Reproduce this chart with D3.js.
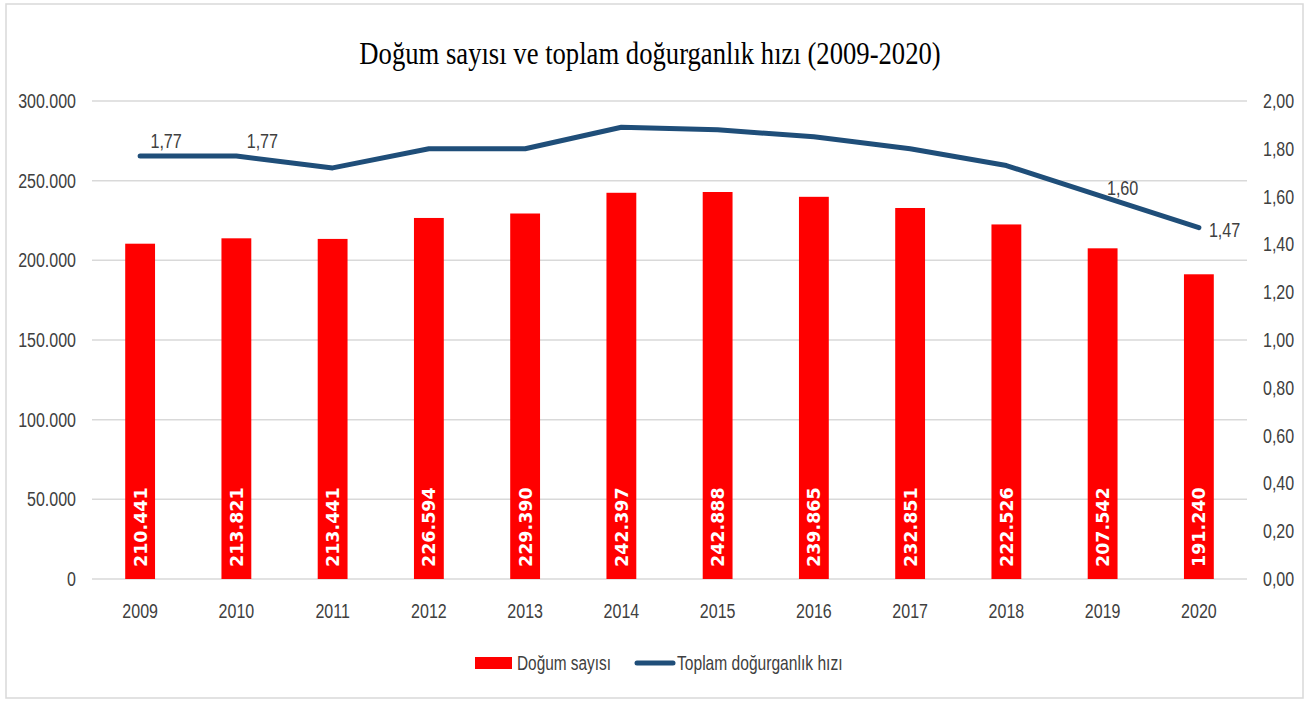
<!DOCTYPE html>
<html lang="tr">
	<head>
		<meta charset="utf-8">
		<title>Doğum sayısı ve toplam doğurganlık hızı</title>
		<script type="text/javascript" src="https://cdn.jsdelivr.net/npm/d3@7/dist/d3.min.js"></script>
		<style type="text/css">
			body { margin: 0; background: #fff; }
			.lbl { font-family: "Liberation Sans", Arial, sans-serif; fill: #404040; }
		</style>
	</head>
	<body>
		<script type="text/javascript">
			var years = ['2009','2010','2011','2012','2013','2014','2015','2016','2017','2018','2019','2020'];
			var births = [210441, 213821, 213441, 226594, 229390, 242397, 242888, 239865, 232851, 222526, 207542, 191240];
			var fertility = [1.77, 1.77, 1.72, 1.80, 1.80, 1.89, 1.88, 1.85, 1.80, 1.73, 1.60, 1.47];
			var leftTicks = [0, 50000, 100000, 150000, 200000, 250000, 300000];
			var rightTicks = [0, 0.2, 0.4, 0.6, 0.8, 1.0, 1.2, 1.4, 1.6, 1.8, 2.0];
			// only these points carry a label on the line
			var lineLabels = [{i: 0, pos: 'above'}, {i: 1, pos: 'above'}, {i: 10, pos: 'aboveRight'}, {i: 11, pos: 'right'}];
			var seriesNames = ['Doğum sayısı', 'Toplam doğurganlık hızı'];

			var w = 1309;
			var h = 702;
			var margin = {'left': 92, 'right': 62, 'top': 101, 'bottom': 123};
			// no narrow font installed, so squeeze the sans labels a bit
			var squeeze = 'scale(0.8,1)';

			var svg = d3.select('body').append('svg').attr('width', w).attr('height', h);

			// outer frame
			svg.append('rect')
				.attr('x', 6).attr('y', 4)
				.attr('width', 1297).attr('height', 694)
				.attr('fill', '#fff')
				.attr('stroke', '#d9d9d9')
				.attr('stroke-width', 1.5);

			svg.append('text')
				.attr('transform', 'translate(650,64) scale(0.86,1)')
				.attr('text-anchor', 'middle')
				.style('font-family', '"Liberation Serif", "Times New Roman", serif')
				.style('font-size', '31px')
				.attr('fill', '#000')
				.text('Doğum sayısı ve toplam doğurganlık hızı (2009-2020)');

			var xScale = d3.scaleBand()
						.domain(years)
						.range([margin.left, w - margin.right])
						.paddingInner(0.69)
						.paddingOuter(0.345);

			var yScale = d3.scaleLinear()
						.domain([0, 300000])
						.range([h - margin.bottom, margin.top]);

			var rScale = d3.scaleLinear()
						.domain([0, 2])
						.range([h - margin.bottom, margin.top]);

			var numFmt = function(v) { return d3.format(',')(v).replace(/,/g, '.'); };

			// grid lines
			svg.append('g')
				.selectAll('line')
				.data(leftTicks)
				.enter()
				.append('line')
				.attr('x1', margin.left)
				.attr('x2', w - margin.right)
				.attr('y1', function(d) { return yScale(d); })
				.attr('y2', function(d) { return yScale(d); })
				.attr('stroke', '#d9d9d9')
				.attr('stroke-width', 1.5);

			var styleTicks = function(g) {
				g.select('.domain').remove();
				g.selectAll('text')
					.attr('class', 'lbl')
					.style('font-size', '20px')
					.attr('fill', '#404040')
					.attr('transform', squeeze);
			};

			var yAxis = d3.axisLeft(yScale).tickValues(leftTicks).tickSize(0).tickPadding(0).tickFormat(numFmt);
			svg.append('g')
				.attr('transform', 'translate(' + 76 + ',0)')
				.call(yAxis)
				.call(styleTicks);

			var rAxis = d3.axisRight(rScale).tickValues(rightTicks).tickSize(0).tickPadding(0)
						.tickFormat(function(d) { return d3.format('.2f')(d).replace('.', ','); });
			svg.append('g')
				.attr('transform', 'translate(' + 1263 + ',0)')
				.call(rAxis)
				.call(styleTicks);

			var xAxis = d3.axisBottom(xScale).tickSize(0).tickPadding(25);
			svg.append('g')
				.attr('transform', 'translate(0,' + (h - margin.bottom) + ')')
				.call(xAxis)
				.call(styleTicks);

			// bars
			svg.append('g')
				.selectAll('rect')
				.data(births)
				.enter()
				.append('rect')
				.attr('x', function(d, i) { return xScale(years[i]); })
				.attr('y', function(d) { return yScale(d); })
				.attr('width', xScale.bandwidth())
				.attr('height', function(d) { return yScale(0) - yScale(d); })
				.attr('fill', '#ff0000');

			// values inside bars, rotated
			svg.append('g')
				.selectAll('text')
				.data(births)
				.enter()
				.append('text')
				.attr('transform', function(d, i) {
					var cx = xScale(years[i]) + xScale.bandwidth() / 2;
					return 'translate(' + (cx + 6.5) + ',' + (yScale(0) - 12) + ') rotate(-90)';
				})
				.style('font-family', '"DejaVu Sans", Verdana, sans-serif')
				.style('font-weight', 'bold')
				.style('font-size', '17.5px')
				.attr('fill', '#fff')
				.text(function(d) { return numFmt(d); });

			// fertility line
			var line = d3.line()
						.x(function(d, i) { return xScale(years[i]) + xScale.bandwidth() / 2; })
						.y(function(d) { return rScale(d); });

			svg.append('path')
				.datum(fertility)
				.attr('d', line)
				.attr('fill', 'none')
				.attr('stroke', '#1f4e79')
				.attr('stroke-width', 5)
				.attr('stroke-linecap', 'round')
				.attr('stroke-linejoin', 'round');

			var labelOffset = {
				'above': {dx: 26, dy: -8, anchor: 'middle'},
				'aboveRight': {dx: 20, dy: -2, anchor: 'middle'},
				'right': {dx: 10, dy: 9, anchor: 'start'}
			};

			svg.append('g')
				.selectAll('text')
				.data(lineLabels)
				.enter()
				.append('text')
				.attr('class', 'lbl')
				.style('font-size', '21px')
				.attr('fill', '#262626')
				.attr('transform', function(d) {
					var o = labelOffset[d.pos];
					var cx = xScale(years[d.i]) + xScale.bandwidth() / 2;
					var cy = rScale(fertility[d.i]);
					return 'translate(' + (cx + o.dx) + ',' + (cy + o.dy) + ') scale(0.77,1)';
				})
				.attr('text-anchor', function(d) { return labelOffset[d.pos].anchor; })
				.text(function(d) { return fertility[d.i].toFixed(2).replace('.', ','); });

			// legend
			var lg = svg.append('g');
			lg.append('rect')
				.attr('x', 475).attr('y', 657)
				.attr('width', 37).attr('height', 12)
				.attr('fill', '#ff0000');
			lg.append('text')
				.attr('class', 'lbl')
				.attr('transform', 'translate(517,670) scale(0.77,1)')
				.style('font-size', '20px')
				.attr('fill', '#262626')
				.text(seriesNames[0]);
			lg.append('line')
				.attr('x1', 637).attr('x2', 673)
				.attr('y1', 663).attr('y2', 663)
				.attr('stroke', '#1f4e79')
				.attr('stroke-width', 5)
				.attr('stroke-linecap', 'round');
			lg.append('text')
				.attr('class', 'lbl')
				.attr('transform', 'translate(677,670) scale(0.78,1)')
				.style('font-size', '20px')
				.attr('fill', '#262626')
				.text(seriesNames[1]);
		</script>
	</body>
</html>
